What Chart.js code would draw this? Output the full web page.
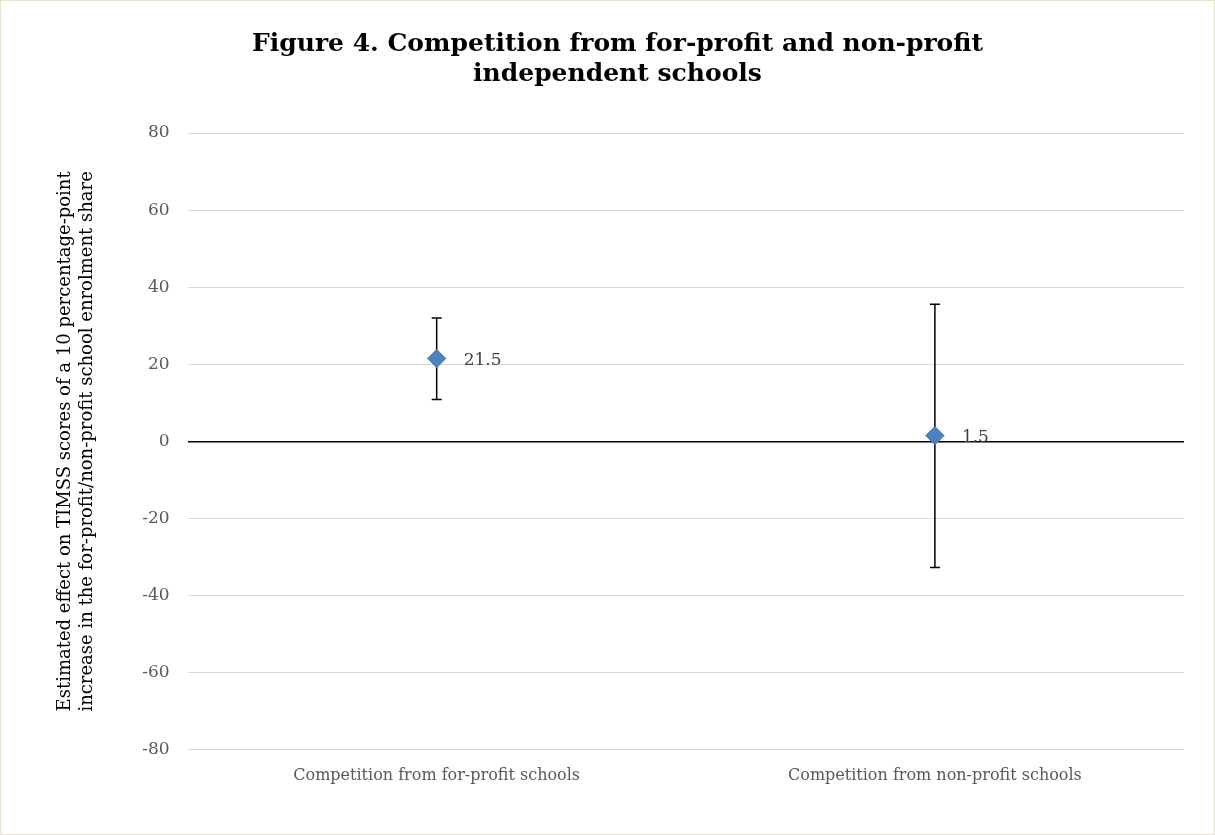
<!DOCTYPE html>
<html><head><meta charset="utf-8">
<script src="https://cdn.jsdelivr.net/npm/chart.js@4"></script>
<style>html,body{margin:0;padding:0;background:#fff}#w{width:1215px;height:835px;position:relative;box-sizing:border-box;border:1px solid #e6e2cf}</style>
</head><body><div id="w"><canvas id="c"></canvas></div>
<script>
const categories = ["Competition from for-profit schools", "Competition from non-profit schools"];
const estimates = [21.5, 1.5];
const upperCI = [32, 35.6];
const lowerCI = [10.9, -32.7];
const valueLabels = ["21.5", "1.5"];
const FONT = "'DejaVu Serif', serif";

const errPlugin = {
  id: 'err',
  afterDatasetsDraw(chart) {
    const ctx = chart.ctx, x = chart.scales.x, y = chart.scales.y;
    ctx.save();
    ctx.strokeStyle = '#000'; ctx.lineWidth = 1.5;
    categories.forEach((c, i) => {
      const px = x.getPixelForValue(i);
      const yt = y.getPixelForValue(upperCI[i]), yb = y.getPixelForValue(lowerCI[i]);
      ctx.beginPath();
      ctx.moveTo(px, yt); ctx.lineTo(px, yb);
      ctx.moveTo(px - 5, yt); ctx.lineTo(px + 5, yt);
      ctx.moveTo(px - 5, yb); ctx.lineTo(px + 5, yb);
      ctx.stroke();
    });
    const meta = chart.getDatasetMeta(0);
    meta.data.forEach(p => p.draw(ctx));
    ctx.fillStyle = '#404040'; ctx.font = "17px " + FONT; ctx.textBaseline = 'middle';
    categories.forEach((c, i) => {
      ctx.fillText(valueLabels[i], x.getPixelForValue(i) + 27, y.getPixelForValue(estimates[i]) + 2);
    });
    ctx.restore();
  }
};

new Chart(document.getElementById('c'), {
  type: 'line',
  data: { labels: categories, datasets: [{ data: estimates, showLine: false,
    pointStyle: 'rectRot', pointRadius: 9, pointHoverRadius: 9,
    backgroundColor: '#4F81BD', borderColor: '#4F81BD', borderWidth: 1 }] },
  options: {
    responsive: true, maintainAspectRatio: false, animation: false,
    layout: { padding: { left: 50, right: 30, top: 20, bottom: 41 } },
    plugins: {
      legend: { display: false }, tooltip: { enabled: false },
      title: { display: true, text: ["Figure 4. Competition from for-profit and non-profit", "independent schools"],
        font: { family: FONT, size: 25, weight: 'bold' }, color: '#000', padding: { top: 8, bottom: 44 }, lineHeight: 1.45 }
    },
    scales: {
      x: { offset: true, grid: { display: false }, border: { display: false },
        ticks: { font: { family: FONT, size: 16 }, color: '#595959', padding: 8 } },
      y: { min: -80, max: 80, ticks: { stepSize: 20, font: { family: FONT, size: 17 }, color: '#595959', padding: 18 },
        border: { display: false },
        grid: { color: ctx => ctx.tick.value === 0 ? '#000' : '#d9d9d9', lineWidth: ctx => ctx.tick.value === 0 ? 1.5 : 1, drawTicks: false },
        title: { display: true, text: ["Estimated effect on TIMSS scores of a 10 percentage-point", "increase in the for-profit/non-profit school enrolment share"],
          font: { family: FONT, size: 18 }, color: '#000', padding: { bottom: 26 }, lineHeight: 1.2 } }
    }
  },
  plugins: [errPlugin]
});
</script></body></html>
